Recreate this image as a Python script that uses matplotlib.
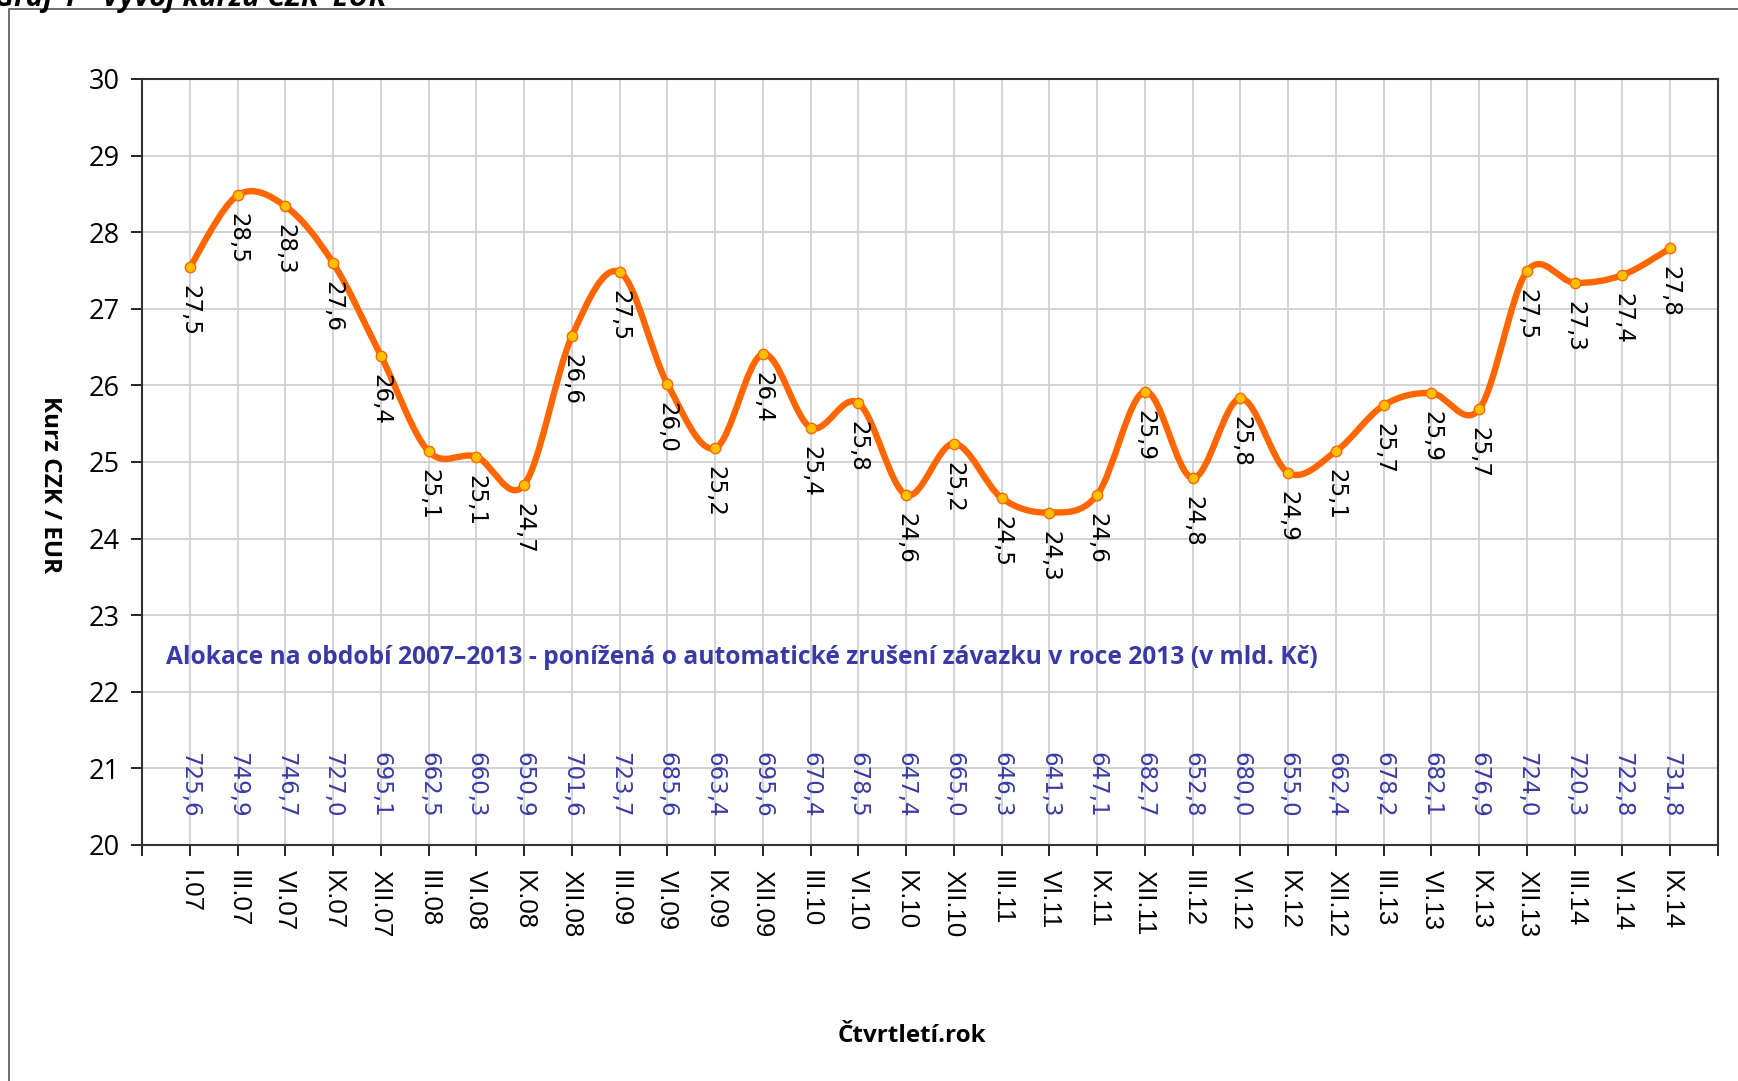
import numpy as np
import matplotlib.pyplot as plt
from matplotlib.path import Path
from matplotlib.patches import PathPatch, Rectangle

# quarter labels on the x axis
quarters = ["I.07", "III.07", "VI.07", "IX.07", "XII.07",
            "III.08", "VI.08", "IX.08", "XII.08",
            "III.09", "VI.09", "IX.09", "XII.09",
            "III.10", "VI.10", "IX.10", "XII.10",
            "III.11", "VI.11", "IX.11", "XII.11",
            "III.12", "VI.12", "IX.12", "XII.12",
            "III.13", "VI.13", "IX.13", "XII.13",
            "III.14", "VI.14", "IX.14"]

# CZK/EUR exchange rate
rate = [27.54, 28.48, 28.34, 27.60, 26.39,
        25.14, 25.07, 24.70, 26.64,
        27.48, 26.02, 25.18, 26.41,
        25.45, 25.77, 24.57, 25.24,
        24.53, 24.34, 24.57, 25.92,
        24.79, 25.83, 24.86, 25.14,
        25.74, 25.90, 25.69, 27.49,
        27.34, 27.44, 27.79]

# allocation 2007-2013 in bn CZK
allocation = [725.6, 749.9, 746.7, 727.0, 695.1,
              662.5, 660.3, 650.9, 701.6,
              723.7, 685.6, 663.4, 695.6,
              670.4, 678.5, 647.4, 665.0,
              646.3, 641.3, 647.1, 682.7,
              652.8, 680.0, 655.0, 662.4,
              678.2, 682.1, 676.9, 724.0,
              720.3, 722.8, 731.8]

ORANGE = "#FF6600"
GOLD = "#FFC000"
BLUE = "#3A3AA6"
W, H = 1738, 1081


def comma(v):
    return f"{v:.1f}".replace(".", ",")


def smooth_path(xs, ys, t=1 / 6):
    # Excel-like smoothed line: cubic Bezier segments with Catmull-Rom tangents
    pts = np.column_stack([xs, ys])
    verts = [pts[0]]
    codes = [Path.MOVETO]
    n = len(pts)
    for i in range(n - 1):
        p0 = pts[i - 1] if i > 0 else pts[i]
        p1, p2 = pts[i], pts[i + 1]
        p3 = pts[i + 2] if i + 2 < n else pts[i + 1]
        c1 = p1 + (p2 - p0) * t
        c2 = p2 - (p3 - p1) * t
        verts += [c1, c2, p2]
        codes += [Path.CURVE4] * 3
    return Path(verts, codes)


fig = plt.figure(figsize=(W / 100, H / 100), dpi=100)
ax = fig.add_axes([142 / W, 1 - 845 / H, (1718 - 142) / W, (845 - 79) / H])

x = np.arange(1, len(quarters) + 1)

ax.add_patch(PathPatch(smooth_path(x, rate), facecolor="none",
                       edgecolor=ORANGE, lw=4.6, capstyle="round",
                       joinstyle="round", zorder=3))
ax.plot(x, rate, ls="none", marker="o", ms=7.5, mfc=GOLD, mec=ORANGE,
        mew=1.0, zorder=4)

for xi, v in zip(x, rate):
    ax.annotate(comma(v), (xi, v), xytext=(0, -13), textcoords="offset points",
                rotation=-90, ha="center", va="top", fontsize=16.5,
                family="DejaVu Sans", color="black", zorder=5)

for xi, a in zip(x, allocation):
    ax.text(xi, 21.22, comma(a), rotation=-90, ha="center", va="top",
            fontsize=16.5, family="DejaVu Sans", color=BLUE, zorder=5)

ax.text(0.5, 22.45,
        "Alokace na období 2007\u20132013 - ponížená o automatické zrušení "
        "závazku v roce 2013 (v mld. Kč)",
        ha="left", va="center", fontsize=17.7, fontweight="bold",
        family="Open Sans", color=BLUE)

ax.set_xlim(0, len(quarters) + 1)
ax.set_ylim(20, 30)
ax.set_yticks(range(20, 31))
ax.set_xticks(np.arange(0, len(quarters) + 2))
ax.set_xticklabels([""] + quarters + [""], rotation=-90,
                   family="Liberation Sans", fontsize=18.5)
ax.tick_params(axis="x", length=8, width=1.2, pad=10, direction="out")
ax.tick_params(axis="y", length=8, width=1.2, pad=8, labelsize=19.5)
for lab in ax.get_yticklabels():
    lab.set_family("Open Sans")

ax.grid(True, color="#D0D0D0", lw=1.3, zorder=0)
ax.set_axisbelow(True)
for s in ax.spines.values():
    s.set_color("#333333")
    s.set_linewidth(1.5)

fig.text(50 / W, 1 - 484 / H, "Kurz CZK / EUR", rotation=-90, ha="center",
         va="center", fontsize=17.5, fontweight="bold", family="Open Sans")
fig.text(912 / W, 1 - 1036 / H, "Čtvrtletí.rok", ha="center", va="center",
         fontsize=17.5, fontweight="bold", family="Open Sans")
fig.text(-6 / W, 1 - 6 / H, "Graf 1 - Vývoj kurzu CZK–EUR", ha="left",
         va="baseline", fontsize=21, fontweight="bold", style="italic",
         family="Open Sans")

# outer chart frame (only the left and top edges fall inside the picture)
fig.add_artist(Rectangle((9 / W, -0.1), 1.2, 1 - 9 / H + 0.1,
                         transform=fig.transFigure, fill=False,
                         edgecolor="#555555", lw=1.2))

fig.savefig("out.png", dpi=100, facecolor="white")
